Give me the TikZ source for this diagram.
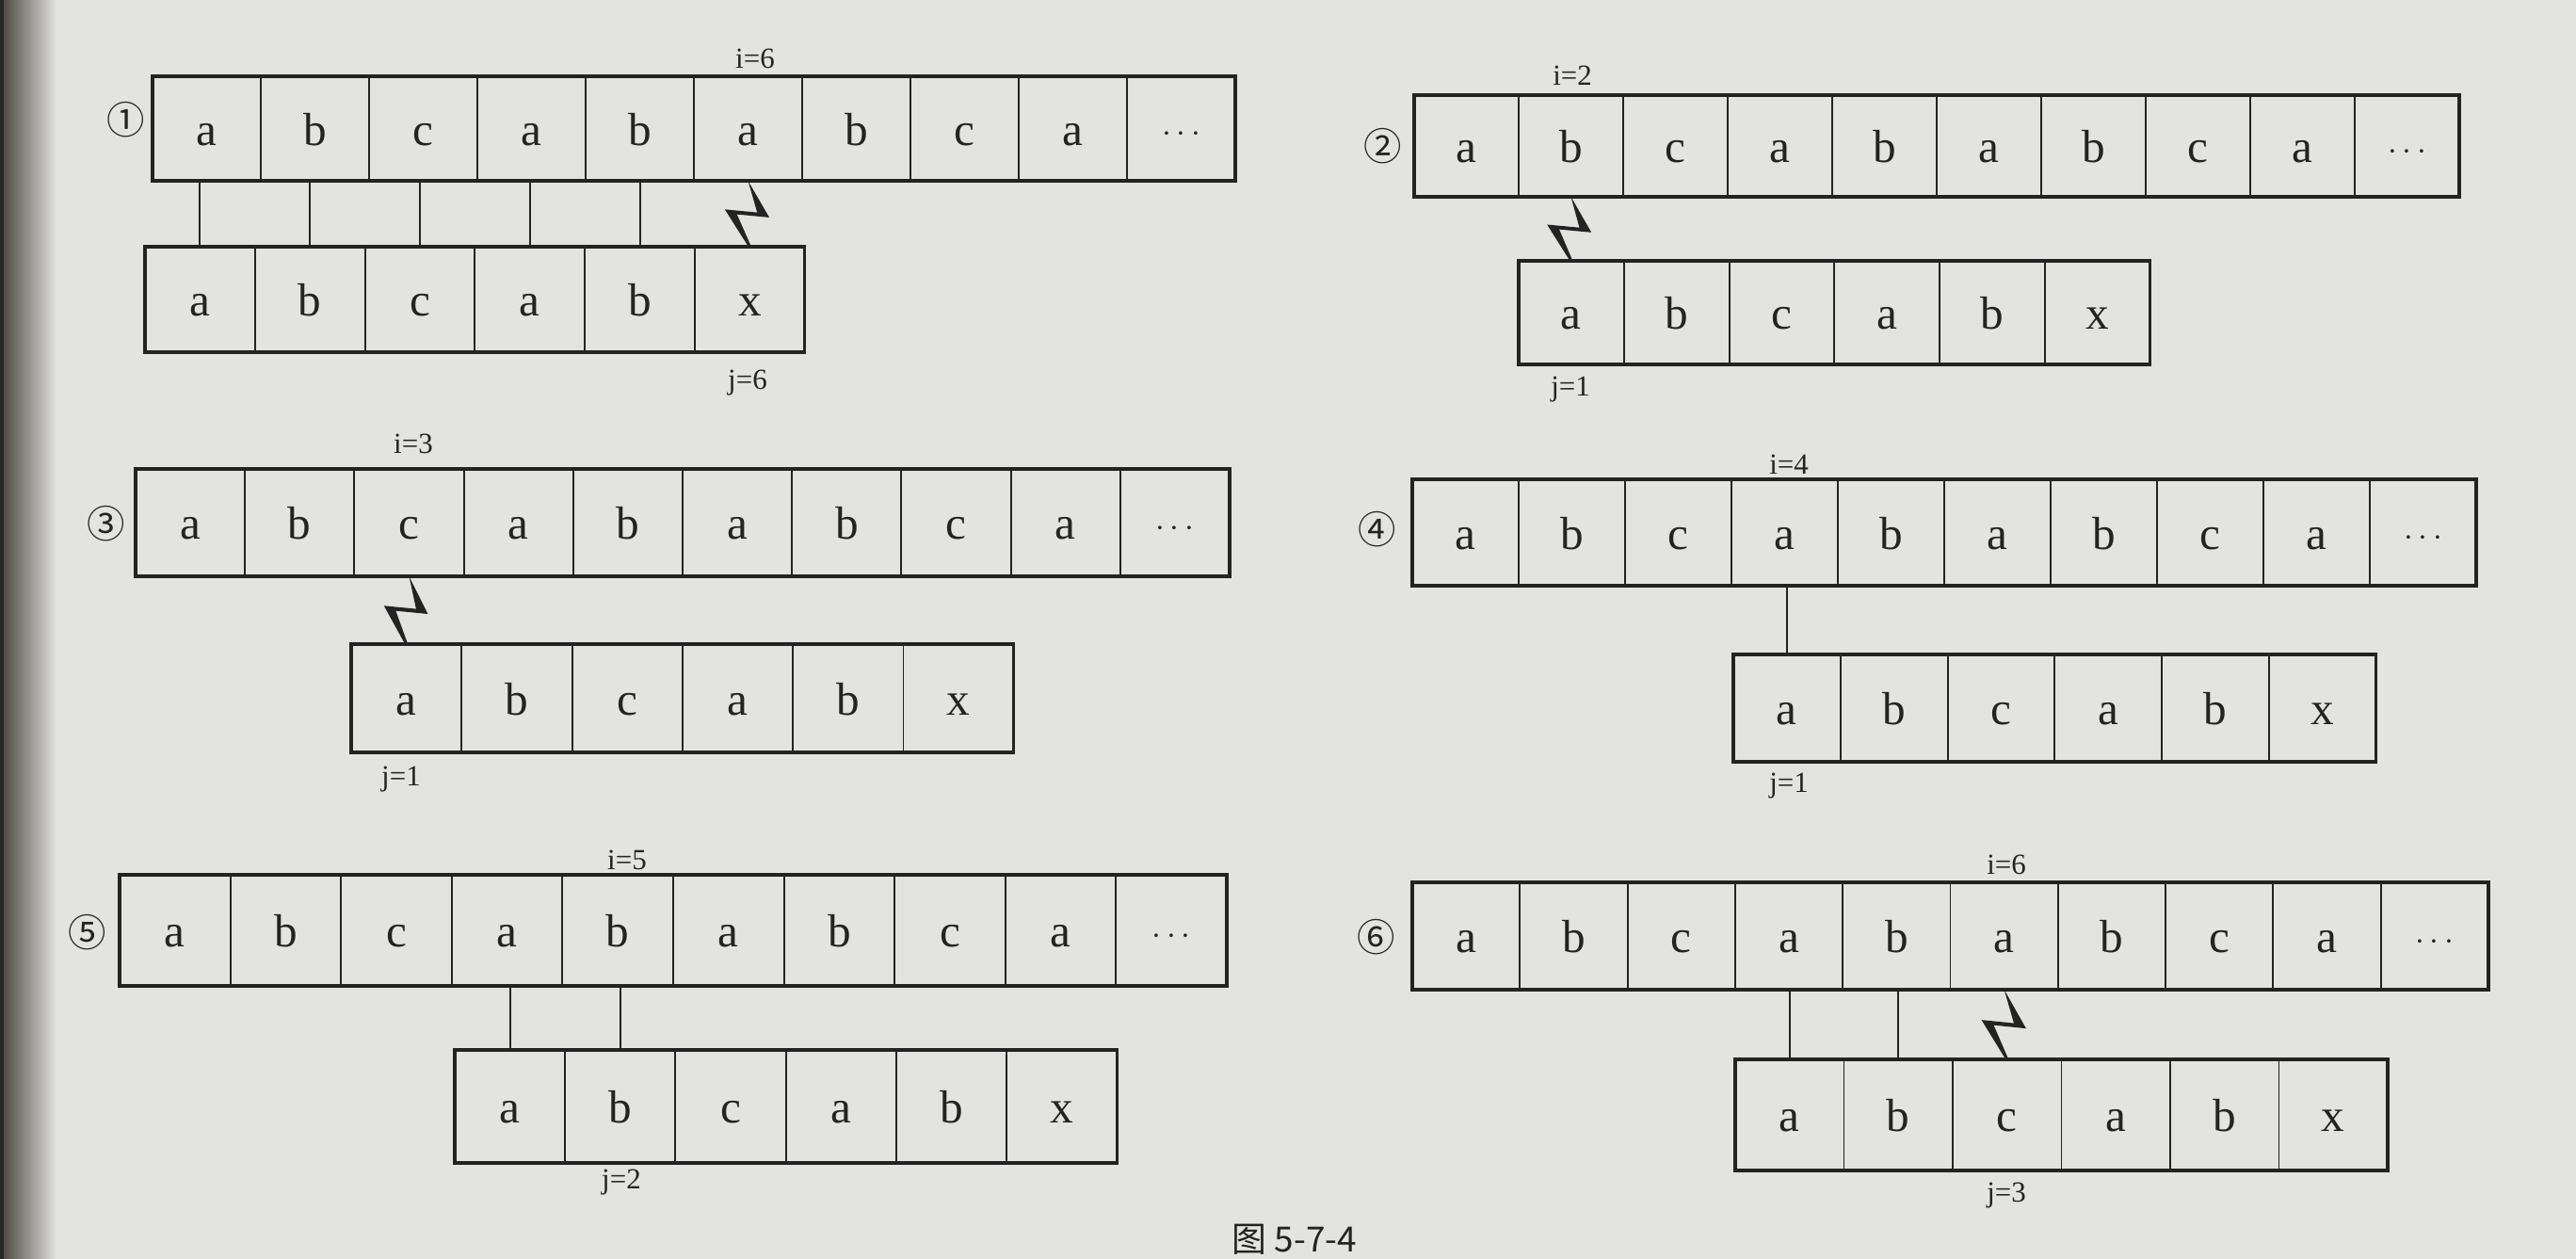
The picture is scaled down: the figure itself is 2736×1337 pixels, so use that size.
\documentclass[tikz,border=0pt]{standalone}
\usepackage{fontspec}
\setmainfont{Liberation Serif}
\newfontfamily\cjk{Noto Sans CJK SC}
\usetikzlibrary{calc}
\definecolor{paper}{RGB}{227,227,225}
\definecolor{ink}{RGB}{35,35,35}
\definecolor{spine}{RGB}{72,66,58}
\tikzset{
  cell/.style={draw=ink, line width=0.55pt, inner sep=0pt, outer sep=0pt, anchor=north west,
    font=\fontsize{14}{14}\selectfont, text height=10pt, text depth=0pt, text=ink},
  rowframe/.style={draw=ink, line width=0.9pt},
  link/.style={draw=ink, line width=0.55pt},
  bolt/.style={fill=ink},
  idx/.style={font=\fontsize{8.8}{9}\selectfont, text=ink, inner sep=0pt},
  num/.style={font=\cjk\fontsize{11.5}{12}\selectfont, text=ink, inner sep=0pt},
}
\newcommand\mydots{{\fontsize{10}{10}\selectfont\raisebox{1pt}{$\cdots$}}}
\newcommand\cellrow[6]{%
  \foreach \c [count=\k] in {#6} {
    \node[cell, minimum width=#4*0.01cm, minimum height=#5*0.01cm] (#1-\k) at ({#2+(\k-1)*#4},#3) {\c};
  }%
}
\newcommand\frameit[2]{\draw[rowframe] (#1-1.north west) rectangle (#1-#2.south east);}
\newcommand\joinup[2]{\draw[link] (#2.north) -- (#2.north |- #1.south);}
\newcommand\zap[2]{%
  \fill[bolt] (#1) -- ($(#1)!0.556!(#2)+(21.5,0)$) -- ($(#1)!0.509!(#2)+(-12.7,0)$)
    -- ($(#2)+(1.5,0)$) -- ($(#2)+(-1.5,0)$) -- ($(#1)!0.434!(#2)+(-25.5,0)$)
    -- ($(#1)!0.481!(#2)+(8.8,0)$) -- cycle;}
\begin{document}
\begin{tikzpicture}[x=0.01cm, y=-0.01cm]
\useasboundingbox (0,0) rectangle (2736,1337);
\clip (0,0) rectangle (2736,1337);
\fill[paper] (0,0) rectangle (2736,1337);
\shade[left color=spine, right color=paper] (0,0) rectangle (60,1337);
\fill[black!85] (0,0) rectangle (4,1337);

% ---------- panel 1 ----------
\cellrow{pa}{162}{81}{115}{111}{a,b,c,a,b,a,b,c,a,\mydots}
\frameit{pa}{10}
\cellrow{qa}{154}{262}{116.8}{112}{a,b,c,a,b,x}
\frameit{qa}{6}
\node[num] (na) at (134,127) {①};
\node[idx] (ia) at (802,62) {i=6};
\node[idx] (ja) at (794,407) {j=6};
\joinup{pa-1}{qa-1}
\joinup{pa-2}{qa-2}
\joinup{pa-3}{qa-3}
\joinup{pa-4}{qa-4}
\joinup{pa-5}{qa-5}
\zap{pa-6.south}{qa-6.north}

% ---------- panel 2 ----------
\cellrow{pb}{1502}{101}{111}{108}{a,b,c,a,b,a,b,c,a,\mydots}
\frameit{pb}{10}
\cellrow{qb}{1613}{277}{111.8}{110}{a,b,c,a,b,x}
\frameit{qb}{6}
\node[num] (nb) at (1469,155) {②};
\node[idx] (ib) at (1670,80) {i=2};
\node[idx] (jb) at (1668,414) {j=1};
\zap{pb-2.south}{qb-1.north}

% ---------- panel 3 ----------
\cellrow{pc}{144}{498}{116.2}{114}{a,b,c,a,b,a,b,c,a,\mydots}
\frameit{pc}{10}
\cellrow{qc}{373}{684}{117.3}{115}{a,b,c,a,b,x}
\frameit{qc}{6}
\node[num] (nc) at (113,556) {③};
\node[idx] (ic) at (439,471) {i=3};
\node[idx] (jc) at (426,828) {j=1};
\zap{pc-3.south}{qc-1.north}

% ---------- panel 4 ----------
\cellrow{pd}{1500}{509}{113}{113}{a,b,c,a,b,a,b,c,a,\mydots}
\frameit{pd}{10}
\cellrow{qd}{1841}{695}{113.8}{114}{a,b,c,a,b,x}
\frameit{qd}{6}
\node[num] (nd) at (1463,562) {④};
\node[idx] (id) at (1900,493) {i=4};
\node[idx] (jd) at (1900,835) {j=1};
\joinup{pd-4}{qd-1}

% ---------- panel 5 ----------
\cellrow{pe}{127}{929}{117.6}{118}{a,b,c,a,b,a,b,c,a,\mydots}
\frameit{pe}{10}
\cellrow{qe}{483}{1115}{117.2}{120}{a,b,c,a,b,x}
\frameit{qe}{6}
\node[num] (ne) at (93,990) {⑤};
\node[idx] (ie) at (666,913) {i=5};
\node[idx] (je) at (660,1256) {j=2};
\joinup{pe-4}{qe-1}
\joinup{pe-5}{qe-2}

% ---------- panel 6 ----------
\cellrow{pf}{1500}{937}{114.3}{114}{a,b,c,a,b,a,b,c,a,\mydots}
\frameit{pf}{10}
\cellrow{qf}{1843}{1125}{115.5}{118}{a,b,c,a,b,x}
\frameit{qf}{6}
\node[num] (nf) at (1462,995) {⑥};
\node[idx] (if) at (2131,918) {i=6};
\node[idx] (jf) at (2131,1270) {j=3};
\joinup{pf-4}{qf-1}
\joinup{pf-5}{qf-2}
\zap{pf-6.south}{qf-3.north}

% ---------- caption (at the lower edge) ----------
\node[anchor=base west, font=\cjk\fontsize{10.5}{11}\selectfont, text=ink, inner sep=0pt] (cap) at (1308,1329) {图 5-7-4};
\end{tikzpicture}
\end{document}
